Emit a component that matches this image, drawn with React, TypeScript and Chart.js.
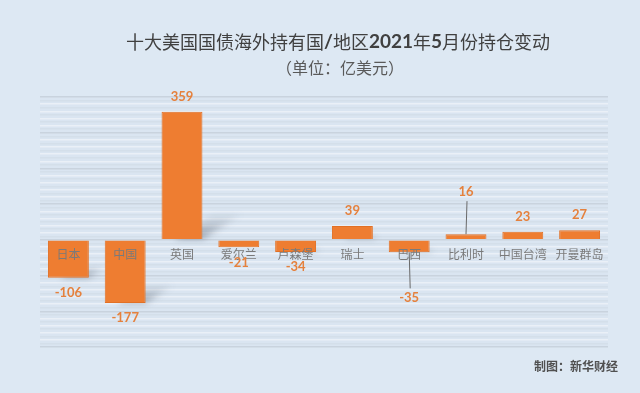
import { useEffect, useRef } from 'react';
import { Chart, registerables } from 'chart.js';

Chart.register(...registerables);

const categories = ['日本', '中国', '英国', '爱尔兰', '卢森堡', '瑞士', '巴西', '比利时', '中国台湾', '开曼群岛'];
const changes = [-106, -177, 359, -21, -34, 39, -35, 16, 23, 27];
const labelOffsets = [15, 15, 15, 15, 15, 15, 45, 42, 15, 15];
const yMin = -300;
const yMax = 400;
const yStep = 10;

const titleSegments = [
  { t: '十大美国国债海外持有国', latin: false },
  { t: '/', latin: true },
  { t: '地区', latin: false },
  { t: '2021', latin: true },
  { t: '年', latin: false },
  { t: '5', latin: true },
  { t: '月份持仓变动', latin: false },
];
const subtitleText = '（单位：亿美元）';
const sourceText = '制图：新华财经';

const CJK = '"Noto Sans CJK SC", sans-serif';

const bgPlugin = {
  id: 'bgPlugin',
  beforeDraw(chart: any) {
    const { ctx, width, height, chartArea: a } = chart;
    ctx.save();
    ctx.fillStyle = '#dde8f3';
    ctx.fillRect(0, 0, width, height);
    ctx.fillStyle = '#dae5f1';
    ctx.fillRect(a.left, a.top, a.right - a.left, a.bottom - a.top);
    ctx.restore();
  },
};

const shadowPlugin = {
  id: 'shadowPlugin',
  beforeDatasetsDraw(chart: any) {
    const { ctx } = chart;
    const meta = chart.getDatasetMeta(0);
    meta.data.forEach((bar: any) => {
      const { x, y, base, width } = bar.getProps(['x', 'y', 'base', 'width'], true);
      const left = x - width / 2;
      const right = x + width / 2;
      const yb = Math.max(y, base);
      const yt = Math.min(y, base);
      const h = yb - yt;
      const hs = Math.min(h * 0.3, 26);
      if (hs < 3) return;
      const dx = hs * 1.6;
      ctx.save();
      ctx.filter = 'blur(3px)';
      const g = ctx.createLinearGradient(0, yb, 0, yb - hs);
      g.addColorStop(0, 'rgba(70,80,95,0.45)');
      g.addColorStop(1, 'rgba(70,80,95,0)');
      ctx.fillStyle = g;
      ctx.beginPath();
      ctx.moveTo(left + width * 0.3, yb);
      ctx.lineTo(right, yb);
      ctx.lineTo(right + dx, yb - hs);
      ctx.lineTo(left + width * 0.3 + dx, yb - hs);
      ctx.closePath();
      ctx.fill();
      ctx.restore();
    });
  },
};

const labelsPlugin = {
  id: 'labelsPlugin',
  afterDatasetsDraw(chart: any) {
    const { ctx } = chart;
    const xs = chart.scales.x;
    const ys = chart.scales.y;
    const zeroY = ys.getPixelForValue(0);
    ctx.save();
    // category labels, drawn over the bars
    ctx.font = `12px ${CJK}`;
    ctx.fillStyle = '#7a7a7a';
    ctx.textAlign = 'center';
    ctx.textBaseline = 'middle';
    categories.forEach((c, i) => {
      ctx.fillText(c, xs.getPixelForTick(i), zeroY + 15);
    });
    // value labels
    const meta = chart.getDatasetMeta(0);
    ctx.font = 'bold 13px "Lato", sans-serif';
    meta.data.forEach((bar: any, i: number) => {
      const v = changes[i];
      const off = labelOffsets[i];
      const { x, y } = bar.getProps(['x', 'y'], true);
      const ly = v >= 0 ? y - off : y + off;
      if (off > 20) {
        ctx.strokeStyle = '#6a6a6a';
        ctx.lineWidth = 1;
        ctx.beginPath();
        ctx.moveTo(x, y);
        ctx.lineTo(x + 1, v >= 0 ? ly + 9 : ly - 9);
        ctx.stroke();
      }
      ctx.fillStyle = '#e5813d';
      ctx.fillText(String(v), x, ly);
    });
    ctx.restore();
  },
};

const textPlugin = {
  id: 'textPlugin',
  afterDraw(chart: any) {
    const { ctx } = chart;
    ctx.save();
    ctx.textBaseline = 'middle';
    ctx.fillStyle = '#404040';
    const cjkFont = `18px ${CJK}`;
    const latFont = 'bold 19px "Lato", sans-serif';
    let total = 0;
    titleSegments.forEach((s) => {
      ctx.font = s.latin ? latFont : cjkFont;
      total += ctx.measureText(s.t).width;
    });
    let xx = 338 - total / 2;
    ctx.textAlign = 'left';
    titleSegments.forEach((s) => {
      ctx.font = s.latin ? latFont : cjkFont;
      ctx.fillText(s.t, xx, 42);
      xx += ctx.measureText(s.t).width;
    });
    ctx.textAlign = 'center';
    ctx.font = `16px ${CJK}`;
    ctx.fillStyle = '#595959';
    ctx.fillText(subtitleText, 340, 68);
    ctx.textAlign = 'right';
    ctx.font = `bold 12px ${CJK}`;
    ctx.fillStyle = '#505050';
    ctx.fillText(sourceText, 618, 366);
    ctx.restore();
  },
};

export default function App() {
  const ref = useRef<HTMLCanvasElement | null>(null);
  useEffect(() => {
    if (!ref.current) return;
    const chart = new Chart(ref.current, {
      type: 'bar',
      data: {
        labels: categories,
        datasets: [
          {
            data: changes,
            backgroundColor: '#ee7d31',
            borderColor: '#e27024',
            borderWidth: 1,
            barPercentage: 0.72,
            categoryPercentage: 1,
          },
        ],
      },
      options: {
        responsive: false,
        animation: false,
        devicePixelRatio: 1,
        layout: { padding: { left: 40, right: 32, top: 97, bottom: 46 } },
        plugins: { legend: { display: false }, tooltip: { enabled: false }, title: { display: false } },
        scales: {
          x: {
            position: { y: 0 } as any,
            grid: { display: false, drawTicks: false },
            border: { display: false },
            ticks: { display: false },
          },
          y: {
            min: yMin,
            max: yMax,
            border: { display: false },
            grid: {
              drawTicks: false,
              color: (c: any) => {
                const v = c.tick?.value ?? 0;
                if (v % 100 === 0) return '#c9d3de';
                if (Math.abs(v) % 20 === 0) return '#eaf0f7';
                return '#d4dfea';
              },
              lineWidth: 1.5,
            },
            ticks: { display: false, stepSize: yStep, maxTicksLimit: 1000, autoSkip: false },
          },
        },
      },
      plugins: [bgPlugin, shadowPlugin, labelsPlugin, textPlugin],
    });
    return () => chart.destroy();
  }, []);
  return (
    <div style={{ position: 'fixed', left: 0, top: 0, width: 640, height: 393 }}>
      <canvas ref={ref} width={640} height={393} style={{ display: 'block' }} />
    </div>
  );
}
